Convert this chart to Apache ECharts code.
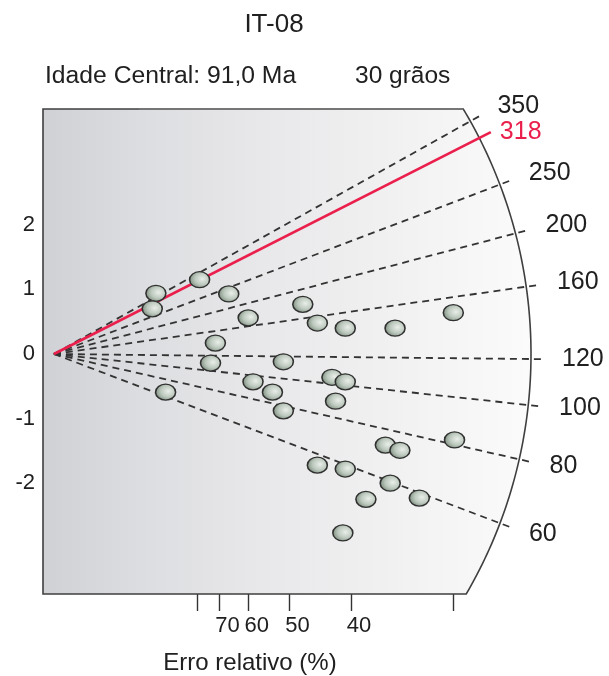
<!DOCTYPE html>
<html>
<head>
<meta charset="utf-8">
<script src="https://cdn.jsdelivr.net/npm/echarts@6/dist/echarts.min.js"></script>
<style>
  html, body { margin: 0; padding: 0; background: #ffffff; }
  #chart { width: 609px; height: 676px; }
</style>
</head>
<body>
<div id="chart"></div>
<script>
// Sample header
const sampleName = 'IT-08';
const centralAgeText = 'Idade Central: 91,0 Ma';
const grainText = '30 grãos';
const axisTitle = 'Erro relativo (%)';

// Single-grain ages: precision (x) and standardised estimate (y)
const precision = [0.84, 0.81, 1.20, 1.44, 1.60, 2.05, 2.17, 2.40, 2.81, 3.29,
                   1.33, 1.29, 1.89, 1.64, 1.80, 1.89, 2.29, 2.40, 2.32, 0.92,
                   2.73, 2.85, 3.30, 2.17, 2.40, 2.77, 2.57, 3.01, 2.38];
const zScore    = [0.94, 0.70, 1.15, 0.93, 0.56, 0.77, 0.48, 0.40, 0.40, 0.64,
                   0.17, -0.14, -0.12, -0.43, -0.59, -0.88, -0.36, -0.43, -0.73, -0.59,
                   -1.41, -1.49, -1.33, -1.72, -1.78, -2.00, -2.25, -2.23, -2.77];

// Age (Ma) sitting on the y = 0 line, and the radial age scale
const refAge = 122.4;
const arcAges = [350, 250, 200, 160, 120, 100, 80, 60];
const peakAge = 318;

// Relative error ticks (%) on the precision axis
const errTicks = [80, 70, 60, 50, 40, 30];
const errLabels = [70, 60, 50, 40];
const yTicks = [-2, -1, 0, 1, 2];

// Radius of the age arc, in precision units
const arcRadius = 3.93;

const FONT = '"Liberation Sans", Arial, Helvetica, sans-serif';
const INK = '#202020';

const chart = echarts.init(document.getElementById('chart'), null, { renderer: 'canvas' });

function arcGeometry(api) {
  const o = api.coord([0, 0]);
  const r = api.coord([arcRadius, 0])[0] - o[0];
  return { o, r };
}

// Frame: left / top / bottom edges closed by the age arc, shaded grey to white
function renderFrame(params, api) {
  const { o, r } = arcGeometry(api);
  const cs = params.coordSys;
  const left = cs.x, top = cs.y, bottom = cs.y + cs.height;
  const aTop = Math.asin((o[1] - top) / r);
  const aBot = Math.asin((bottom - o[1]) / r);
  const pts = [[left, top]];
  const n = 90;
  for (let i = 0; i <= n; i++) {
    const a = aTop - (aTop + aBot) * i / n;
    pts.push([o[0] + r * Math.cos(a), o[1] - r * Math.sin(a)]);
  }
  pts.push([left, bottom]);
  return {
    type: 'group',
    children: [
      {
        type: 'polygon',
        shape: { points: pts },
        style: {
          fill: new echarts.graphic.LinearGradient(0, 0, 1, 0, [
            { offset: 0, color: '#d0d1d5' },
            { offset: 0.2, color: '#dcdde0' },
            { offset: 0.45, color: '#e8e8ea' },
            { offset: 0.75, color: '#f2f2f3' },
            { offset: 1, color: '#fbfbfb' }
          ]),
          stroke: '#3f3f3f',
          lineWidth: 1.6
        }
      },
      {
        // lighter right part of the top edge
        type: 'line',
        shape: { x1: left + 96, y1: top, x2: pts[1][0], y2: top },
        style: { stroke: '#7a7a7a', lineWidth: 1.6 }
      }
    ]
  };
}

// A ray from the origin at the slope of a given age, with its label past the arc
function makeRay(api, age, lineStyle, textColor, labelMode) {
  const { o, r } = arcGeometry(api);
  const slope = Math.log(age / refAge);
  const p = api.coord([1, slope]);
  const dx = p[0] - o[0], dy = p[1] - o[1];
  const len = Math.hypot(dx, dy);
  const ux = dx / len, uy = dy / len;
  const rEnd = r + 13;
  const end = [o[0] + ux * rEnd, o[1] + uy * rEnd];
  let lx, ly;
  if (labelMode === 'end') {
    lx = end[0] + 9; ly = end[1];
  } else {
    lx = o[0] + ux * (r + 31); ly = o[1] + uy * (r + 31);
  }
  return {
    type: 'group',
    children: [
      {
        type: 'line',
        shape: { x1: o[0], y1: o[1], x2: end[0], y2: end[1] },
        style: lineStyle
      },
      {
        type: 'text',
        x: lx, y: ly,
        style: {
          text: String(age),
          fill: textColor,
          font: '25px ' + FONT,
          align: 'left',
          verticalAlign: 'middle'
        }
      }
    ]
  };
}

const option = {
  animation: false,
  backgroundColor: '#ffffff',
  grid: { left: 43, top: 109, width: 496.5, height: 485 },
  xAxis: [
    {
      type: 'value', min: -0.09, max: 4.0, show: false
    },
    {
      type: 'value', min: -0.008, max: 4.035, position: 'bottom',
      axisLine: { show: false },
      splitLine: { show: false },
      axisTick: {
        show: true, length: 17, inside: false,
        customValues: errTicks.map(p => 100 / p),
        lineStyle: { color: '#333333', width: 1.4 }
      },
      axisLabel: {
        show: true, margin: 21,
        customValues: errLabels.map(p => 100 / p),
        formatter: v => String(Math.round(100 / v)),
        color: INK, fontSize: 22, fontFamily: FONT,
        padding: [0, 0, 0, 16]
      }
    }
  ],
  yAxis: {
    type: 'value', min: -3.715, max: 3.793,
    axisLine: { show: false },
    splitLine: { show: false },
    axisTick: {
      show: true, length: 5, inside: false,
      customValues: yTicks,
      lineStyle: { color: '#333333', width: 1.3 }
    },
    axisLabel: {
      show: true, margin: 8,
      customValues: yTicks,
      color: INK, fontSize: 22, fontFamily: FONT
    }
  },
  series: [
    {
      type: 'custom',
      name: 'frame',
      xAxisIndex: 0,
      clip: false,
      silent: true,
      z: 1,
      data: [[0, 0]],
      renderItem: renderFrame
    },
    {
      type: 'custom',
      name: 'age scale',
      xAxisIndex: 0,
      clip: false,
      silent: true,
      z: 2,
      data: arcAges.map(a => [0, 0, a]),
      renderItem: (params, api) => makeRay(api, api.value(2),
        { stroke: '#333333', lineWidth: 1.8, lineDash: [7, 5] }, INK, 'arc')
    },
    {
      type: 'custom',
      name: 'peak',
      xAxisIndex: 0,
      clip: false,
      silent: true,
      z: 3,
      data: [[0, 0, peakAge]],
      renderItem: (params, api) => makeRay(api, api.value(2),
        { stroke: '#ea1f4c', lineWidth: 2.6 }, '#ea1f4c', 'end')
    },
    {
      type: 'scatter',
      name: 'grains',
      xAxisIndex: 0,
      z: 5,
      symbol: 'circle',
      symbolSize: [20, 16],
      data: precision.map((x, i) => [x, zScore[i]]),
      itemStyle: {
        color: {
          type: 'radial', x: 0.62, y: 0.45, r: 0.62,
          colorStops: [
            { offset: 0, color: '#e9eee9' },
            { offset: 0.55, color: '#bcc8bd' },
            { offset: 1, color: '#7b8c7c' }
          ]
        },
        borderColor: '#303030',
        borderWidth: 1.4,
        opacity: 1
      }
    }
  ],
  graphic: [
    {
      type: 'text', x: 274, y: 25,
      style: { text: sampleName, font: '26px ' + FONT, fill: INK, align: 'center', verticalAlign: 'middle' }
    },
    {
      type: 'text', x: 45, y: 76.5,
      style: { text: centralAgeText, font: '24.7px ' + FONT, fill: INK, align: 'left', verticalAlign: 'middle' }
    },
    {
      type: 'text', x: 355, y: 76.5,
      style: { text: grainText, font: '24.5px ' + FONT, fill: INK, align: 'left', verticalAlign: 'middle' }
    },
    {
      type: 'text', x: 250, y: 663,
      style: { text: axisTitle, font: '24px ' + FONT, fill: INK, align: 'center', verticalAlign: 'middle' }
    }
  ]
};

chart.setOption(option);
</script>
</body>
</html>
